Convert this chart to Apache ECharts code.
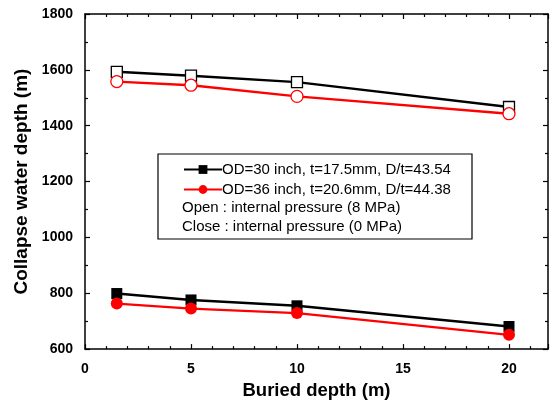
<!DOCTYPE html>
<html>
<head>
<meta charset="utf-8">
<script src="https://cdn.jsdelivr.net/npm/echarts@6/dist/echarts.min.js"></script>
<style>
  html, body { margin: 0; padding: 0; background: #fff; }
  #chart { width: 557px; height: 405px; }
</style>
</head>
<body>
<div id="chart"></div>
<script>
// Buried depth (m) of each case
const buriedDepth = [1.5, 5, 10, 20];

// Collapse water depth (m)
const od30Open = [1593, 1579, 1556, 1467];   // internal pressure 8 MPa
const od36Open = [1558, 1545, 1505, 1443];
const od30Close = [799, 776, 755, 681];      // internal pressure 0 MPa
const od36Close = [763, 745, 729, 651];

const od30Name = 'OD=30 inch, t=17.5mm, D/t=43.54';
const od36Name = 'OD=36 inch, t=20.6mm, D/t=44.38';
const noteLines = ['Open : internal pressure (8 MPa)', 'Close : internal pressure (0 MPa)'];

const xTicks = [0, 5, 10, 15, 20];
const yTicks = [600, 800, 1000, 1200, 1400, 1600, 1800];

const pairs = (xs, ys) => xs.map((x, i) => [x, ys[i]]);

const chart = echarts.init(document.getElementById('chart'), null, { renderer: 'canvas' });

const fontFamily = '"Liberation Sans", Arial, sans-serif';
const tickFont = { fontFamily: fontFamily, fontWeight: 'bold', fontSize: 14, color: '#000' };
const axisLine = { show: true, onZero: false, lineStyle: { color: '#000', width: 1.5 } };
const plain = v => String(v);

const xBase = {
  type: 'value', min: xTicks[0], max: 21.84, interval: 5,
  axisLine: axisLine,
  axisTick: { show: true, inside: true, length: 5, lineStyle: { color: '#000', width: 1.2 } },
  minorTick: { show: true, splitNumber: 5, length: 3, lineStyle: { color: '#000', width: 1.2 } },
  splitLine: { show: false }
};
const yBase = {
  type: 'value', min: yTicks[0], max: yTicks[yTicks.length - 1], interval: 200,
  axisLine: axisLine,
  axisTick: { show: true, inside: true, length: 5, lineStyle: { color: '#000', width: 1.2 } },
  minorTick: { show: true, splitNumber: 2, length: 3, lineStyle: { color: '#000', width: 1.2 } },
  splitLine: { show: false }
};

const lineSeries = (name, data, color, symbol, filled, z) => ({
  name: name,
  type: 'line',
  data: data,
  symbol: symbol,
  symbolSize: symbol === 'circle' ? 12 : 11,
  showAllSymbol: true,
  z: z,
  lineStyle: { color: color, width: 2.4 },
  itemStyle: { color: filled ? color : '#fff', borderColor: color, borderWidth: filled ? 0 : 1.3 },
  emphasis: { disabled: true },
  animation: false
});

chart.setOption({
  animation: false,
  backgroundColor: '#fff',
  grid: { left: 85, right: 9, top: 14, bottom: 54 },
  xAxis: [
    Object.assign({}, xBase, {
      position: 'bottom',
      name: 'Buried depth (m)', nameLocation: 'middle', nameGap: 22,
      nameTextStyle: { fontFamily: fontFamily, fontWeight: 'bold', fontSize: 18.5, color: '#000' },
      axisLabel: Object.assign({ margin: 13, showMaxLabel: false, formatter: plain }, tickFont)
    }),
    Object.assign({}, xBase, { position: 'top', axisLabel: { show: false } })
  ],
  yAxis: [
    Object.assign({}, yBase, {
      position: 'left',
      name: 'Collapse water depth (m)', nameLocation: 'middle', nameGap: 41,
      nameTextStyle: { fontFamily: fontFamily, fontWeight: 'bold', fontSize: 19, color: '#000' },
      axisLabel: Object.assign({ margin: 12, formatter: plain }, tickFont)
    }),
    Object.assign({}, yBase, { position: 'right', axisLabel: { show: false } })
  ],
  legend: {
    orient: 'vertical',
    left: 178, top: 157,
    itemWidth: 38, itemHeight: 11, itemGap: 5,
    data: [od30Name, od36Name],
    textStyle: { fontFamily: fontFamily, fontSize: 15, color: '#000', padding: [0, 0, 0, -5] },
    selectedMode: false
  },
  graphic: [
    {
      type: 'rect', z: 50,
      shape: { x: 158, y: 154, width: 314, height: 85 },
      style: { fill: 'none', stroke: '#000', lineWidth: 1.2 }
    },
    {
      type: 'text', z: 50, left: 182, top: 200,
      style: { text: noteLines[0], font: '15px ' + fontFamily, fill: '#000' }
    },
    {
      type: 'text', z: 50, left: 182, top: 219,
      style: { text: noteLines[1], font: '15px ' + fontFamily, fill: '#000' }
    }
  ],
  series: [
    lineSeries(od30Name + ' (open)', pairs(buriedDepth, od30Open), '#000', 'rect', false, 2),
    lineSeries(od36Name + ' (open)', pairs(buriedDepth, od36Open), '#ff0000', 'circle', false, 3),
    lineSeries(od30Name, pairs(buriedDepth, od30Close), '#000', 'rect', true, 2),
    lineSeries(od36Name, pairs(buriedDepth, od36Close), '#ff0000', 'circle', true, 3)
  ]
});
</script>
</body>
</html>
